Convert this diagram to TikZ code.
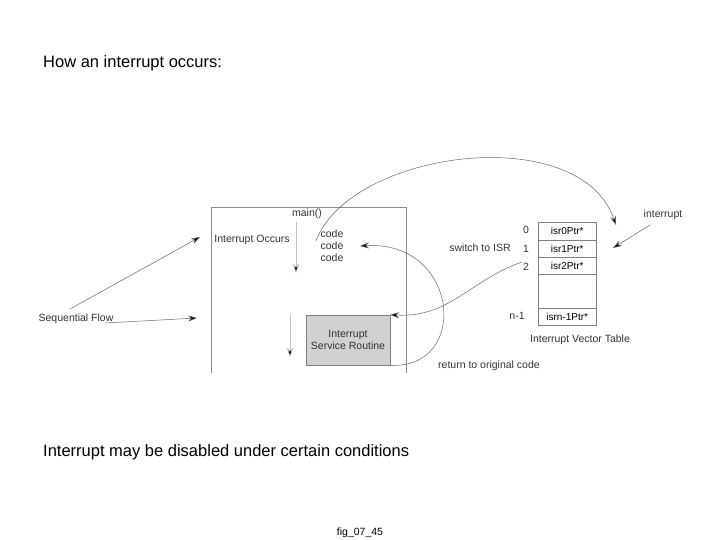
\documentclass[tikz,border=0pt]{standalone}
\usepackage{fontspec}
\setmainfont{Liberation Sans}
\usetikzlibrary{arrows.meta}
\begin{document}
\begin{tikzpicture}[x=1pt,y=-1pt,
  lbl/.style={font=\fontsize{10.5}{12}\selectfont,text=black!80,inner sep=0pt},
  ln/.style={draw=black!60,line width=0.5pt,-{Stealth[length=9pt,width=6pt,fill=black]}},
  cell/.style={draw=black!50,minimum width=58pt,anchor=north west,font=\fontsize{10}{12}\selectfont,inner sep=0pt}]
\useasboundingbox (0,0) rectangle (720,540);
\node[anchor=west,inner sep=0pt,font=\fontsize{16.5}{19}\selectfont] (t1) at (43,63) {How an interrupt occurs:};
\node[anchor=west,inner sep=0pt,font=\fontsize{16.5}{19}\selectfont] (t2) at (43,452) {Interrupt may be disabled under certain conditions};
\node[font=\fontsize{10.5}{12}\selectfont] (fig) at (360,533) {fig\_07\_45};
% main box
\draw[black!45] (211,373) -- (211,207) -- (406,207) -- (406,373);
\node[lbl] (main) at (307,214) {main()};
\node[lbl,align=center] (code) at (332,246) {code\\code\\code};
\node[lbl] (occ) at (252,240) {Interrupt Occurs};
\node[draw=black!50,fill=black!18,minimum width=84pt,minimum height=50pt,align=center,lbl] (isr) at (348,340) {Interrupt\\Service Routine};
\coordinate (v1a) at (296,222); \coordinate (v1b) at (296,273);
\coordinate (v2a) at (290,315); \coordinate (v2b) at (290,357);
\draw[ln,draw=black!25] (v1a) -- (v1b);
\draw[ln,draw=black!25] (v2a) -- (v2b);
% table
\node[cell,minimum height=18pt] (r0) at (538,222) {isr0Ptr*};
\node[cell,minimum height=17pt] (r1) at (538,240) {isr1Ptr*};
\node[cell,minimum height=17pt] (r2) at (538,257) {isr2Ptr*};
\node[cell,minimum height=34pt] (r3) at (538,274) {};
\node[cell,minimum height=17pt] (r4) at (538,308) {isrn-1Ptr*};
\node[lbl] (n0) at (526,230) {0};
\node[lbl] (n1) at (526,249) {1};
\node[lbl] (n2) at (526,267) {2};
\node[lbl] (nn) at (517,316) {n-1};
\node[lbl] (ivt) at (580,340) {Interrupt Vector Table};
\node[lbl] (intr) at (663,215) {interrupt};
\node[lbl] (sw) at (480,248) {switch to ISR};
\node[lbl] (ret) at (489,366) {return to original code};
\node[lbl] (seq) at (76,319) {Sequential Flow};
% arrows
\coordinate (sa) at (70,309); \coordinate (sb) at (200,237);
\coordinate (sc) at (105,323); \coordinate (sd) at (197,318);
\draw[ln] (sa) -- (sb);
\draw[ln] (sc) -- (sd);
\coordinate (ca) at (316,241); \coordinate (cb) at (616,225);
\draw[ln] (ca) .. controls (350,150) and (580,120) .. (cb);
\coordinate (ia) at (650,225); \coordinate (ib) at (613,248);
\draw[ln] (ia) -- (ib);
\coordinate (wa) at (522,262);
\draw[ln] (wa) .. controls (470,280) and (450,318) .. (isr.north east);
\coordinate (ra) at (360,246);
\draw[ln] (isr.south east) .. controls (470,370) and (460,240) .. (ra);
\end{tikzpicture}
\end{document}
